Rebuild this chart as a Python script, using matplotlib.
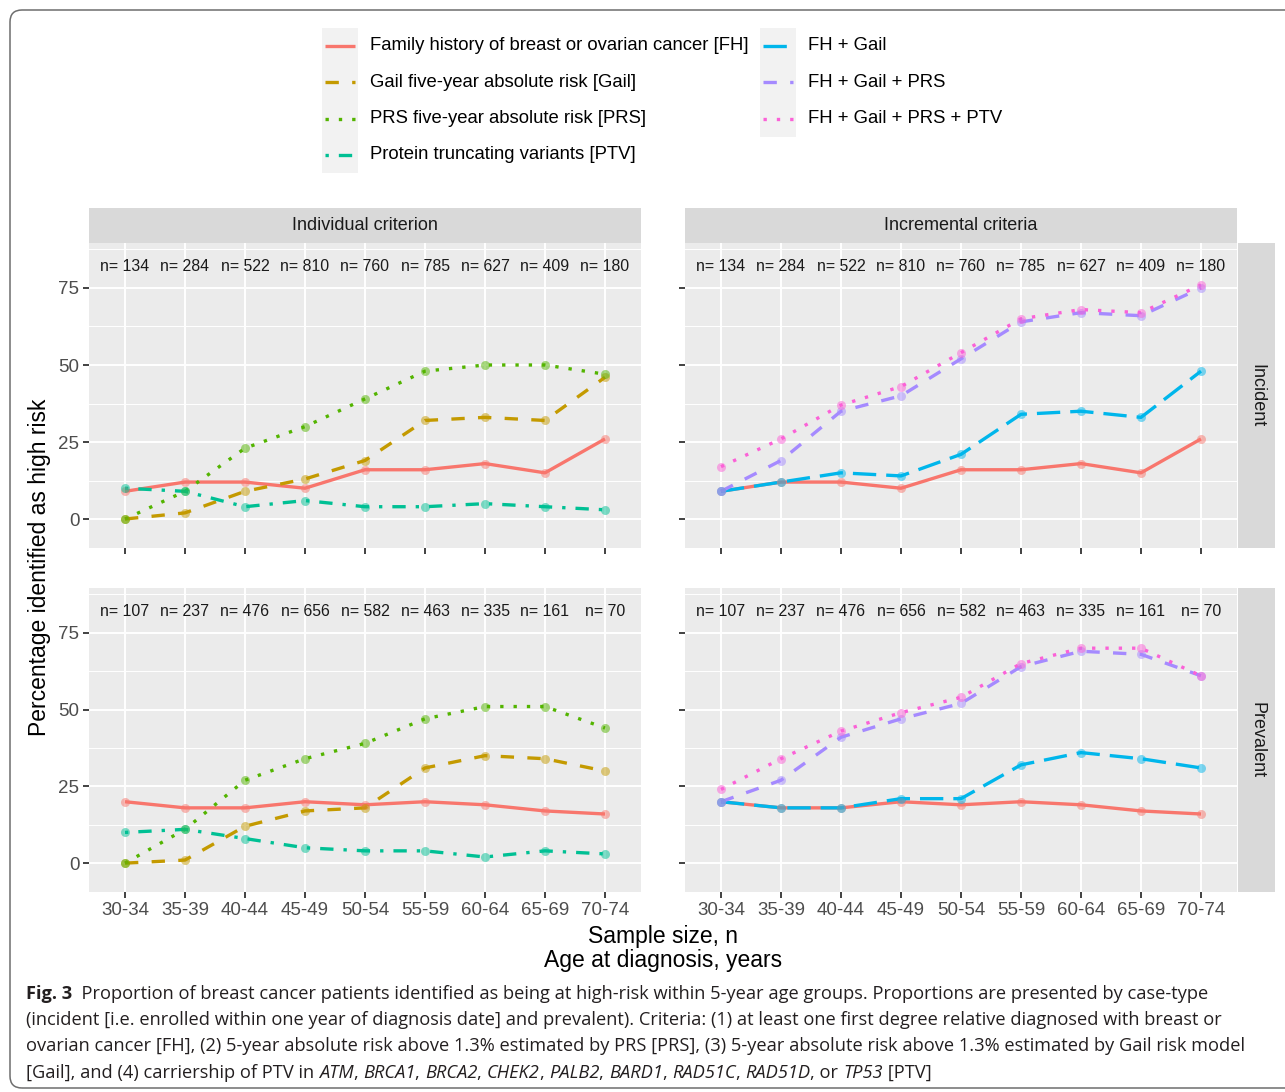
import matplotlib
matplotlib.use('Agg')
import matplotlib.pyplot as plt
from matplotlib.lines import Line2D
from matplotlib.patches import Rectangle, FancyBboxPatch
from matplotlib.transforms import IdentityTransform

plt.rcParams['font.family'] = ['Liberation Sans', 'DejaVu Sans']

# ---- data ----
age_groups = ['30-34', '35-39', '40-44', '45-49', '50-54', '55-59', '60-64', '65-69', '70-74']
n_incident = [134, 284, 522, 810, 760, 785, 627, 409, 180]
n_prevalent = [107, 237, 476, 656, 582, 463, 335, 161, 70]

fh_inc = [9, 12, 12, 10, 16, 16, 18, 15, 26]
gail_inc = [0, 2, 9, 13, 19, 32, 33, 32, 46]
prs_inc = [0, 9, 23, 30, 39, 48, 50, 50, 47]
ptv_inc = [10, 9, 4, 6, 4, 4, 5, 4, 3]
fh_gail_inc = [9, 12, 15, 14, 21, 34, 35, 33, 48]
fh_gail_prs_inc = [9, 19, 35, 40, 52, 64, 67, 66, 75]
fh_gail_prs_ptv_inc = [17, 26, 37, 43, 54, 65, 68, 67, 76]

fh_prev = [20, 18, 18, 20, 19, 20, 19, 17, 16]
gail_prev = [0, 1, 12, 17, 18, 31, 35, 34, 30]
prs_prev = [0, 11, 27, 34, 39, 47, 51, 51, 44]
ptv_prev = [10, 11, 8, 5, 4, 4, 2, 4, 3]
fh_gail_prev = [20, 18, 18, 21, 21, 32, 36, 34, 31]
fh_gail_prs_prev = [20, 27, 41, 47, 52, 64, 69, 68, 61]
fh_gail_prs_ptv_prev = [24, 34, 43, 49, 54, 65, 70, 70, 61]

criteria = ['FH', 'Gail', 'PRS', 'PTV', 'FH+Gail', 'FH+Gail+PRS', 'FH+Gail+PRS+PTV']
legend_labels = ['Family history of breast or ovarian cancer [FH]',
                 'Gail five-year absolute risk [Gail]',
                 'PRS five-year absolute risk [PRS]',
                 'Protein truncating variants [PTV]',
                 'FH + Gail', 'FH + Gail + PRS', 'FH + Gail + PRS + PTV']

# ---- styles ----
colors = {'FH': '#F8766D', 'Gail': '#C49A00', 'PRS': '#53B400', 'PTV': '#00C094',
          'FH+Gail': '#00B6EB', 'FH+Gail+PRS': '#A58AFF', 'FH+Gail+PRS+PTV': '#FB61D7'}
dashes = {'FH': None, 'Gail': (4, 4), 'PRS': (1, 3), 'PTV': (1, 3, 4, 3),
          'FH+Gail': (7, 3), 'FH+Gail+PRS': (4, 4), 'FH+Gail+PRS+PTV': (1, 3)}
LW = 2.4

W, H = 1285, 1092
fig = plt.figure(figsize=(W / 100, H / 100), dpi=100)


def box(x0, y0, x1, y1):
    return [x0 / W, 1 - y1 / H, (x1 - x0) / W, (y1 - y0) / H]


def draw_series(ax, name, vals):
    x = list(range(len(age_groups)))
    kw = dict(color=colors[name], lw=LW, solid_capstyle='butt', dash_capstyle='butt')
    if dashes[name] is not None:
        kw['dashes'] = dashes[name]
    ax.plot(x, vals, zorder=3, **kw)
    ax.plot(x, vals, ls='none', marker='o', ms=6.5, color=colors[name],
            alpha=0.5, mew=0, zorder=4)


def setup_panel(ax, ns, show_x, show_y):
    ax.set_facecolor('#EBEBEB')
    ax.set_xlim(-0.6, 8.6)
    ax.set_ylim(-9.4, 89.6)
    ax.set_xticks(range(len(age_groups)))
    ax.set_xticklabels(age_groups if show_x else [])
    ax.set_yticks([0, 25, 50, 75])
    ax.set_yticks([12.5, 37.5, 62.5, 87.5], minor=True)
    if not show_y:
        ax.set_yticklabels([])
    ax.grid(True, which='major', color='white', lw=1.4)
    ax.grid(True, which='minor', axis='y', color='white', lw=0.7)
    ax.set_axisbelow(True)
    ax.tick_params(which='major', length=4, width=1.3, color='#333333',
                   labelsize=13.5, labelcolor='#4D4D4D', pad=3)
    ax.tick_params(which='minor', length=0)
    for s in ax.spines.values():
        s.set_visible(False)
    for i, n in enumerate(ns):
        ax.text(i, 82, f'n= {n}', ha='center', va='center', fontsize=11.4, color='#1A1A1A')


panels = [
    ((89, 243, 641, 548), n_incident, False, True,
     [('FH', fh_inc), ('Gail', gail_inc), ('PRS', prs_inc), ('PTV', ptv_inc)]),
    ((685, 243, 1237, 548), n_incident, False, False,
     [('FH', fh_inc), ('FH+Gail', fh_gail_inc), ('FH+Gail+PRS', fh_gail_prs_inc),
      ('FH+Gail+PRS+PTV', fh_gail_prs_ptv_inc)]),
    ((89, 588, 641, 892), n_prevalent, True, True,
     [('FH', fh_prev), ('Gail', gail_prev), ('PRS', prs_prev), ('PTV', ptv_prev)]),
    ((685, 588, 1237, 892), n_prevalent, True, False,
     [('FH', fh_prev), ('FH+Gail', fh_gail_prev), ('FH+Gail+PRS', fh_gail_prs_prev),
      ('FH+Gail+PRS+PTV', fh_gail_prs_ptv_prev)]),
]

for rect, ns, sx, sy, series in panels:
    ax = fig.add_axes(box(*rect))
    setup_panel(ax, ns, sx, sy)
    for name, vals in series:
        draw_series(ax, name, vals)

# facet strips
strips = [((89, 208, 641, 243), 'Individual criterion', 0),
          ((685, 208, 1237, 243), 'Incremental criteria', 0),
          ((1238, 243, 1275, 548), 'Incident', -90),
          ((1238, 588, 1275, 892), 'Prevalent', -90)]
for rect, label, rot in strips:
    sa = fig.add_axes(box(*rect))
    sa.set_facecolor('#D9D9D9')
    sa.set_xticks([])
    sa.set_yticks([])
    for s in sa.spines.values():
        s.set_visible(False)
    sa.text(0.5, 0.5, label, rotation=rot, ha='center', va='center',
            fontsize=13, color='#1A1A1A', transform=sa.transAxes)

# axis titles
fig.text(663 / W, 1 - 936 / H, 'Sample size, n', ha='center', va='center', fontsize=16.5)
fig.text(663 / W, 1 - 961 / H, 'Age at diagnosis, years', ha='center', va='center', fontsize=16.5)
fig.text(40 / W, 1 - 567 / H, 'Percentage identified as high risk', rotation=90,
         ha='center', va='center', fontsize=16.5)

# legend (ggplot style keys)
row_h = 36.3
cols = [(322, 370, criteria[:4], legend_labels[:4]), (760, 808, criteria[4:], legend_labels[4:])]
for kx, tx, names, labels in cols:
    fig.add_artist(Rectangle((kx / W, 1 - (28 + row_h * len(names)) / H), 36 / W,
                             row_h * len(names) / H, transform=fig.transFigure,
                             facecolor='#F2F2F2', edgecolor='none'))
    for j, (name, lab) in enumerate(zip(names, labels)):
        yc = 1 - (46 + row_h * j) / H
        kw = dict(color=colors[name], lw=LW, solid_capstyle='butt', dash_capstyle='butt')
        if dashes[name] is not None:
            kw['dashes'] = dashes[name]
        fig.add_artist(Line2D([(kx + 3) / W, (kx + 33) / W], [yc, yc],
                              transform=fig.transFigure, **kw))
        fig.text(tx / W, yc, lab, ha='left', va='center', fontsize=13.3)

# outer rounded frame
fig.add_artist(FancyBboxPatch((10, H - 1088), 1400, 1078,
                              boxstyle='round,pad=0,rounding_size=12',
                              transform=IdentityTransform(), fill=False,
                              edgecolor='#6E6E6E', lw=1.1))

# caption
cap_font = ['Open Sans', 'DejaVu Sans']
cap_color = '#231F20'
caption_lines = [
    [('Fig. 3', 'bold', 'normal'),
     ('  Proportion of breast cancer patients identified as being at high-risk within 5-year age groups. '
      'Proportions are presented by case-type', 'normal', 'normal')],
    [('(incident [i.e. enrolled within one year of diagnosis date] and prevalent). Criteria: (1) at least '
      'one first degree relative diagnosed with breast or', 'normal', 'normal')],
    [('ovarian cancer [FH], (2) 5-year absolute risk above 1.3% estimated by PRS [PRS], (3) 5-year '
      'absolute risk above 1.3% estimated by Gail risk model', 'normal', 'normal')],
    [('[Gail], and (4) carriership of PTV in ', 'normal', 'normal'),
     ('ATM', 'normal', 'italic'), (', ', 'normal', 'normal'),
     ('BRCA1', 'normal', 'italic'), (', ', 'normal', 'normal'),
     ('BRCA2', 'normal', 'italic'), (', ', 'normal', 'normal'),
     ('CHEK2', 'normal', 'italic'), (', ', 'normal', 'normal'),
     ('PALB2', 'normal', 'italic'), (', ', 'normal', 'normal'),
     ('BARD1', 'normal', 'italic'), (', ', 'normal', 'normal'),
     ('RAD51C', 'normal', 'italic'), (', ', 'normal', 'normal'),
     ('RAD51D', 'normal', 'italic'), (', or ', 'normal', 'normal'),
     ('TP53', 'normal', 'italic'), (' [PTV]', 'normal', 'normal')],
]
caption_y = [994, 1020, 1046, 1073]

# fit the first caption line to its width in the reference
renderer = fig.canvas.get_renderer()
probe = [fig.text(0, 0, t, fontsize=10, weight=w, style=s, family=cap_font)
         for t, w, s in caption_lines[0]]
probe_w = sum(p.get_window_extent(renderer).width for p in probe)
for p in probe:
    p.remove()
cap_size = 10 * (1212 - 26) / probe_w

bg = fig.add_axes([0, 0, 1, 1], zorder=-1)
bg.axis('off')
for segs, yl in zip(caption_lines, caption_y):
    prev = None
    for t, w, s in segs:
        kw = dict(fontsize=cap_size, weight=w, style=s, family=cap_font, color=cap_color,
                  ha='left', va='center')
        if prev is None:
            prev = bg.text(26 / W, 1 - yl / H, t, transform=fig.transFigure, **kw)
        else:
            prev = bg.annotate(t, xy=(1, 0.5), xycoords=prev, **kw)

fig.savefig('out.png', dpi=100)
